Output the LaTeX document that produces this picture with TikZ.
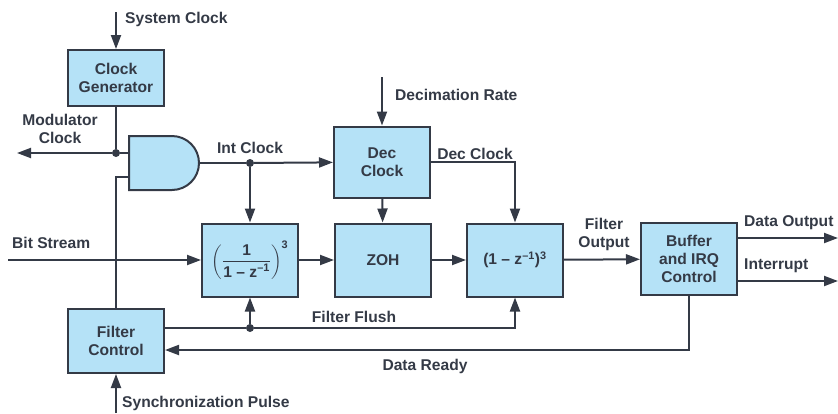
\documentclass[tikz,border=0pt]{standalone}
\usepackage{fontspec}
\setmainfont{Liberation Sans}
\usepackage{amsmath}
\usetikzlibrary{arrows.meta, positioning, calc}
\definecolor{ink}{HTML}{343A46}
\definecolor{blockfill}{HTML}{B5E2F7}

\begin{document}
\begin{tikzpicture}[
    x=1pt, y=-1pt,
    block/.style={
        rectangle, draw=ink, line width=2pt, fill=blockfill,
        minimum width=96pt, minimum height=72pt, inner sep=0pt,
        font=\fontsize{15.6}{18}\selectfont\bfseries, text=ink, align=center
    },
    wire/.style={draw=ink, line width=2pt},
    arr/.style={wire, -{Triangle[length=14pt, width=10pt]}},
    lbl/.style={font=\fontsize{15.6}{18}\selectfont\bfseries, text=ink, align=center, inner sep=0pt},
    dot/.style={circle, fill=ink, minimum size=8pt, inner sep=0pt},
]
\useasboundingbox (0,0) rectangle (838,413);

% Blocks
\node[block, minimum height=56pt] (clkgen) at (116,78) {Clock\\Generator};
\node[block, minimum height=71pt] (decclk) at (382,162) {Dec\\Clock};
\node[block, minimum height=73pt] (integ) at (250,260)
    {$\left(\dfrac{\text{1}}{\text{1 – z}^{\text{–1}}}\right)^{\text{3}}$};
\node[block, minimum height=73pt] (zoh) at (383,260) {ZOH};
\node[block, minimum height=73pt] (diff) at (515,260) {(1 – z\textsuperscript{–1})\textsuperscript{3}};
\node[block, minimum height=72pt] (buffer) at (689,259) {Buffer\\and IRQ\\Control};
\node[block, minimum height=64pt] (filtctl) at (116,341) {Filter\\Control};

% AND gate
\draw[wire, fill=blockfill] (129,136) -- (172,136) arc(-90:90:27) -- (129,190) -- cycle;
\coordinate (gin1) at (129,153);
\coordinate (gin2) at (129,177);
\coordinate (gout) at (199,163);

% Free ends
\coordinate (sysin) at (116,12);
\coordinate (modout) at (17,153);
\coordinate (decin) at (382,77);
\coordinate (bitin) at (8,260);
\coordinate (dout) at (838,238);
\coordinate (irqout) at (838,281);
\coordinate (syncin) at (116,413);

% Junctions
\node[dot] (jmod) at (116,153) {};
\node[dot] (jint) at (integ.north |- gout) {};
\node[dot] (jflush) at (integ.south |- 0,328) {};

% Clock path
\draw[arr] (sysin) -- (clkgen);
\draw[wire] (clkgen) -- (jmod) -- (gin1);
\draw[arr] (jmod) -- (modout);
\draw[wire] (filtctl) |- (gin2);
\draw[wire] (gout) -- (jint);
\draw[arr] (jint) -- (decclk);
\draw[arr] (jint) -- (integ);
\draw[arr] (decin) -- (decclk);
\draw[arr] (decclk) -- (zoh);
\draw[arr] (decclk.east) -| (diff.north);

% Data path
\draw[arr] (bitin) -- (integ);
\draw[arr] (integ) -- (zoh);
\draw[arr] (zoh) -- (diff);
\draw[arr] (diff) -- (buffer);
\draw[arr] (buffer.east |- dout) -- (dout);
\draw[arr] (buffer.east |- irqout) -- (irqout);

% Control path
\draw[wire] (filtctl.east |- jflush) -- (jflush);
\draw[arr] (jflush) -- (integ);
\draw[arr] (jflush) -| (diff.south);
\draw[arr] (buffer.south) |- ([yshift=-9pt]filtctl.east);
\draw[arr] (syncin) -- (filtctl);

% Labels
\node[lbl, anchor=west] at (125,19) {System Clock};
\node[lbl] at (60,129) {Modulator\\Clock};
\node[lbl] at (250,148) {Int Clock};
\node[lbl, anchor=west] at (395,95) {Decimation Rate};
\node[lbl] at (475,154) {Dec Clock};
\node[lbl, anchor=west] at (12,243) {Bit Stream};
\node[lbl] at (604,234) {Filter\\Output};
\node[lbl, anchor=west] at (744,223) {Data Output};
\node[lbl, anchor=west] at (744,266) {Interrupt};
\node[lbl] at (354,317) {Filter Flush};
\node[lbl] at (425,366) {Data Ready};
\node[lbl, anchor=west] at (122,403) {Synchronization Pulse};

\end{tikzpicture}
\end{document}
